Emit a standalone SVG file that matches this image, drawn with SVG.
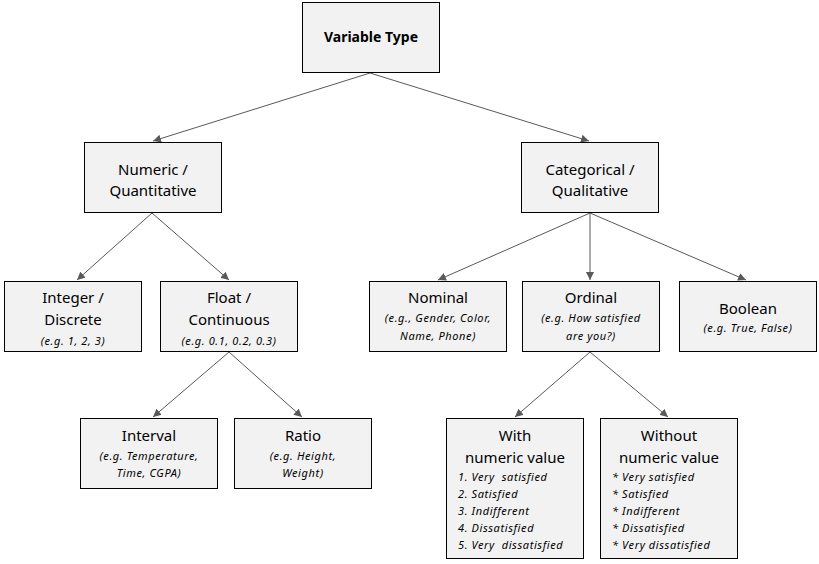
<svg xmlns="http://www.w3.org/2000/svg" width="819" height="564" viewBox="0 0 819 564">
<defs>
<marker id="ah" viewBox="0 0 10 10" refX="10" refY="5" markerWidth="8" markerHeight="8" markerUnits="userSpaceOnUse" orient="auto">
<path d="M0,0 L10,5 L0,10 z" fill="#595959"/>
</marker>
<style>
.box{fill:#f2f2f2;stroke:#000;stroke-width:1}
.t{font-family:"Noto Sans","Open Sans",sans-serif;font-size:15px;fill:#000;text-anchor:middle}
.b{font-weight:bold;font-size:14px}
.i{font-family:"Noto Sans","Open Sans",sans-serif;font-size:11px;letter-spacing:0.6px;font-style:italic;fill:#000;text-anchor:middle}
.l{text-anchor:start}
.c{stroke:#595959;stroke-width:1;fill:none;marker-end:url(#ah)}
</style>
</defs>
<rect width="819" height="564" fill="#fff"/>
<g id="connectors">
<line class="c" x1="370" y1="73" x2="153" y2="141"/>
<line class="c" x1="370" y1="73" x2="589" y2="141"/>
<line class="c" x1="152" y1="213" x2="77" y2="280"/>
<line class="c" x1="152" y1="213" x2="229" y2="280"/>
<line class="c" x1="590" y1="213" x2="438" y2="280"/>
<line class="c" x1="590" y1="213" x2="590" y2="280"/>
<line class="c" x1="590" y1="213" x2="746" y2="280"/>
<line class="c" x1="229" y1="352" x2="153" y2="417"/>
<line class="c" x1="229" y1="352" x2="302" y2="417"/>
<line class="c" x1="590" y1="352" x2="515" y2="417"/>
<line class="c" x1="590" y1="352" x2="668" y2="417"/>
</g>
<g id="variable-type">
<rect class="box" x="302.5" y="2.5" width="137" height="70"/>
<text class="t b" x="371" y="42">Variable Type</text>
</g>
<g id="numeric">
<rect class="box" x="84.5" y="142.5" width="137" height="70"/>
<text class="t" x="153" y="175">Numeric /</text>
<text class="t" x="153" y="196">Quantitative</text>
</g>
<g id="categorical">
<rect class="box" x="521.5" y="142.5" width="137" height="70"/>
<text class="t" x="590" y="175">Categorical /</text>
<text class="t" x="590" y="196">Qualitative</text>
</g>
<g id="integer">
<rect class="box" x="4.5" y="281.5" width="137" height="70"/>
<text class="t" x="73" y="303">Integer /</text>
<text class="t" x="73" y="325">Discrete</text>
<text class="i" x="73" y="345">(e.g. 1, 2, 3)</text>
</g>
<g id="float">
<rect class="box" x="160.5" y="281.5" width="137" height="70"/>
<text class="t" x="229" y="303">Float /</text>
<text class="t" x="229" y="325">Continuous</text>
<text class="i" x="229" y="345">(e.g. 0.1, 0.2, 0.3)</text>
</g>
<g id="nominal">
<rect class="box" x="369.5" y="281.5" width="137" height="70"/>
<text class="t" x="438" y="303">Nominal</text>
<text class="i" x="438" y="322">(e.g., Gender, Color,</text>
<text class="i" x="438" y="340">Name, Phone)</text>
</g>
<g id="ordinal">
<rect class="box" x="522.5" y="281.5" width="137" height="70"/>
<text class="t" x="591" y="303">Ordinal</text>
<text class="i" x="591" y="322">(e.g. How satisfied</text>
<text class="i" x="591" y="340">are you?)</text>
</g>
<g id="boolean">
<rect class="box" x="679.5" y="281.5" width="137" height="70"/>
<text class="t" x="748" y="314">Boolean</text>
<text class="i" x="748" y="332">(e.g. True, False)</text>
</g>
<g id="interval">
<rect class="box" x="80.5" y="418.5" width="137" height="70"/>
<text class="t" x="149" y="441">Interval</text>
<text class="i" x="149" y="460">(e.g. Temperature,</text>
<text class="i" x="149" y="477">Time, CGPA)</text>
</g>
<g id="ratio">
<rect class="box" x="234.5" y="418.5" width="137" height="70"/>
<text class="t" x="303" y="441">Ratio</text>
<text class="i" x="303" y="460">(e.g. Height,</text>
<text class="i" x="303" y="477">Weight)</text>
</g>
<g id="with-numeric">
<rect class="box" x="446.5" y="418.5" width="137" height="140"/>
<text class="t" x="515" y="441">With</text>
<text class="t" x="515" y="463">numeric value</text>
<text class="i l" x="458" y="481" xml:space="preserve">1. Very  satisfied</text>
<text class="i l" x="458" y="498">2. Satisfied</text>
<text class="i l" x="458" y="515">3. Indifferent</text>
<text class="i l" x="458" y="532">4. Dissatisfied</text>
<text class="i l" x="458" y="549" xml:space="preserve">5. Very  dissatisfied</text>
</g>
<g id="without-numeric">
<rect class="box" x="600.5" y="418.5" width="137" height="140"/>
<text class="t" x="669" y="441">Without</text>
<text class="t" x="669" y="463">numeric value</text>
<text class="i l" x="612" y="481">* Very satisfied</text>
<text class="i l" x="612" y="498">* Satisfied</text>
<text class="i l" x="612" y="515">* Indifferent</text>
<text class="i l" x="612" y="532">* Dissatisfied</text>
<text class="i l" x="612" y="549">* Very dissatisfied</text>
</g>
</svg>
